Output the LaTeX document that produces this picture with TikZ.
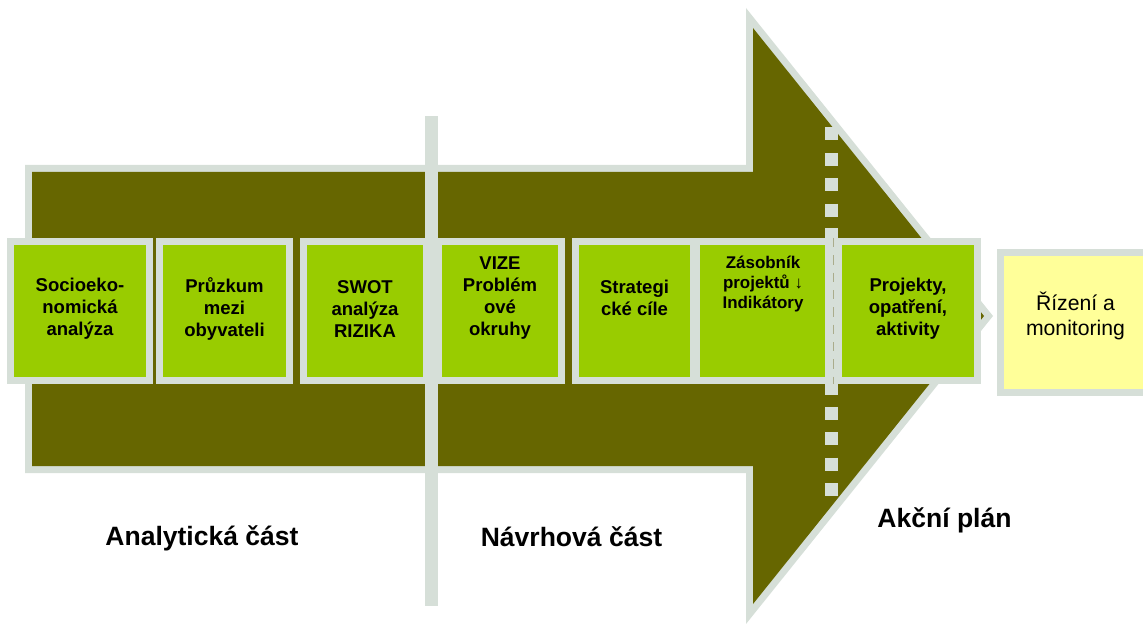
\documentclass[tikz,border=0pt]{standalone}
\usepackage{fontspec}
\setmainfont{Liberation Sans}
\definecolor{arrowolive}{HTML}{666600}
\definecolor{bordgray}{RGB}{214,223,216}
\definecolor{boxgreen}{HTML}{99CC00}
\definecolor{boxyellow}{HTML}{FFFF99}
\definecolor{dashcol}{RGB}{170,172,140}
\begin{document}
\begin{tikzpicture}[x=0.75pt,y=-0.75pt,
  gbox/.style={draw=bordgray,line width=5.25pt,fill=boxgreen},
  ybox/.style={draw=bordgray,line width=5.25pt,fill=boxyellow},
  btext/.style={inner sep=0pt,align=center,font=\bfseries\fontsize{13.9pt}{16.5pt}\selectfont},
  stext/.style={inner sep=0pt,align=center,font=\bfseries\fontsize{12.7pt}{15pt}\selectfont},
  rtext/.style={inner sep=0pt,align=center,font=\fontsize{15.9pt}{18.8pt}\selectfont},
  ltext/.style={inner sep=0pt,font=\bfseries\fontsize{19.9pt}{24pt}\selectfont}]
\useasboundingbox (0,0) rectangle (1143,624);
% big arrow
\fill[bordgray] (25,165) -- (746,165) -- (746,8) -- (993,316) -- (746,624) -- (746,473) -- (25,473) -- cycle;
\fill[arrowolive] (32,172) -- (753,172) -- (753,28) -- (984,316) -- (753,604) -- (753,466) -- (32,466) -- cycle;
% boxes
\draw[gbox] (10.5,241.5) rectangle (149.5,380.5);
\draw[gbox] (159.5,241.5) rectangle (289.5,380.5);
\draw[gbox] (303.5,241.5) rectangle (426.5,380.5);
\draw[gbox] (438.5,241.5) rectangle (561.5,380.5);
\draw[gbox] (575.5,241.5) rectangle (693.5,380.5);
\draw[gbox] (696.5,241.5) rectangle (829.5,380.5);
\draw[gbox] (838.5,241.5) rectangle (977.5,380.5);
\draw[ybox] (1000.5,252.5) rectangle (1150,392.5);
% separator
\fill[bordgray] (425,116) rectangle (438,606);
% dashed divider
\draw[bordgray,line width=9.75pt,dash pattern=on 9.75pt off 9.3pt] (831.5,127.5) -- (831.5,496);
\fill[bordgray] (825,228) rectangle (838,393);
\draw[dashcol,line width=0.9pt,dash pattern=on 7pt off 6pt] (833.5,238) -- (833.5,384);
% texts
\node[btext] (t1) at (80,309) {Socioeko-\\nomická\\analýza};
\node[btext] (t2) at (224.5,309) {Průzkum\\mezi\\obyvateli};
\node[btext] (t3) at (365,309) {SWOT\\analýza\\RIZIKA};
\node[btext] (t4) at (500,298.5) {VIZE\\Problém\\ové\\okruhy};
\node[btext] (t5) at (634.5,298) {Strategi\\cké cíle};
\node[stext] (t6) at (763,284.5) {Zásobník\\projektů ↓\\Indikátory};
\node[btext] (t7) at (908,308.5) {Projekty,\\opatření,\\aktivity};
\node[rtext] (t8) at (1075.5,315.5) {Řízení a\\monitoring};
\node[ltext] (l1) at (202,538) {Analytická část};
\node[ltext] (l2) at (571.5,537) {Návrhová část};
\node[ltext] (l3) at (944.5,520) {Akční plán};
\end{tikzpicture}
\end{document}
